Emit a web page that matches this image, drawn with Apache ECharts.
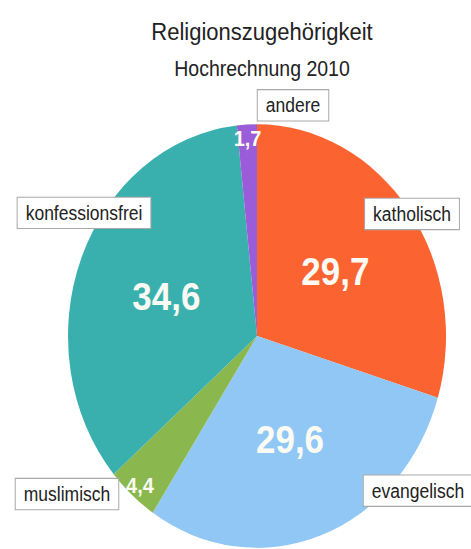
<!DOCTYPE html>
<html>
<head>
<meta charset="utf-8">
<script src="https://cdn.jsdelivr.net/npm/echarts@6/dist/echarts.min.js"></script>
<style>
html,body{margin:0;padding:0;background:#fff;width:471px;height:549px;overflow:hidden;}
#wrap{width:471px;height:549px;overflow:hidden;position:relative;}
#chart{position:absolute;left:0;top:0;width:471px;height:490px;transform:scaleY(1.1204);transform-origin:0 0;}
</style>
</head>
<body>
<div id="wrap"><div id="chart"></div></div>
<script>
const titleText = 'Religionszugehörigkeit';
const subtitleText = 'Hochrechnung 2010';
const categories = ['katholisch', 'evangelisch', 'muslimisch', 'konfessionsfrei', 'andere'];
const values = [29.7, 29.6, 4.4, 34.6, 1.7];
const sliceColors = ['#fb6331', '#90c7f5', '#8bb84e', '#3ab0ae', '#9a5cd8'];
// label box anchor points (layout, not data)
const nameLabelPos = [[412, 191], [418, 438], [67, 441], [84, 190], [293, 94]];

const fmt = v => String(v).replace('.', ',');
const FONT = '"Liberation Sans", Arial, sans-serif';
const CENTER = [257, 300];
const R = 189;

const mainData = categories.map((c, i) => ({
  name: c, value: values[i],
  itemStyle: { color: sliceColors[i] },
  label: { show: values[i] >= 10 }
}));
const ringData = categories.map((c, i) => ({
  name: c, value: values[i],
  label: { show: values[i] < 10 }
}));
const nameData = categories.map((c, i) => ({ name: c, value: values[i] }));

const chart = echarts.init(document.getElementById('chart'), null, { renderer: 'svg' });
chart.setOption({
  animation: false,
  backgroundColor: '#fff',
  title: [
    { text: titleText, left: 257, top: 12, textAlign: 'center',
      textStyle: { fontFamily: FONT, fontSize: 22, fontWeight: 'normal', color: '#222' } },
    { text: subtitleText, left: 257, top: 46, textAlign: 'center',
      textStyle: { fontFamily: FONT, fontSize: 19.5, fontWeight: 'normal', color: '#222' } }
  ],
  series: [
    {
      type: 'pie', silent: true, center: CENTER, radius: R,
      startAngle: 90, clockwise: true, avoidLabelOverlap: false,
      data: mainData,
      label: { position: 'inside', formatter: p => fmt(p.value), color: '#fbfbf4',
        fontFamily: FONT, fontSize: 35, fontWeight: 'bold' },
      labelLine: { show: false },
      emphasis: { disabled: true }
    },
    {
      type: 'pie', silent: true, center: CENTER, radius: [154, 194],
      startAngle: 90, clockwise: true, avoidLabelOverlap: false,
      data: ringData,
      itemStyle: { color: 'rgba(0,0,0,0)' },
      label: { position: 'inside', formatter: p => fmt(p.value), color: '#fbfbf4',
        fontFamily: FONT, fontSize: 20, fontWeight: 'bold' },
      labelLine: { show: false },
      emphasis: { disabled: true }
    },
    {
      type: 'pie', silent: true, center: CENTER, radius: R,
      startAngle: 90, clockwise: true, avoidLabelOverlap: false,
      data: nameData,
      itemStyle: { color: 'rgba(0,0,0,0)' },
      label: { show: true, position: 'outside', formatter: '{b}', color: '#222',
        fontFamily: FONT, fontSize: 17.5, backgroundColor: '#fff',
        borderColor: '#a8a8a8', borderWidth: 1, padding: [5, 8, 4, 8] },
      labelLine: { show: false },
      labelLayout: p => ({ x: nameLabelPos[p.dataIndex][0], y: nameLabelPos[p.dataIndex][1],
        align: 'center', verticalAlign: 'middle' }),
      emphasis: { disabled: true }
    }
  ]
});
</script>
</body>
</html>
